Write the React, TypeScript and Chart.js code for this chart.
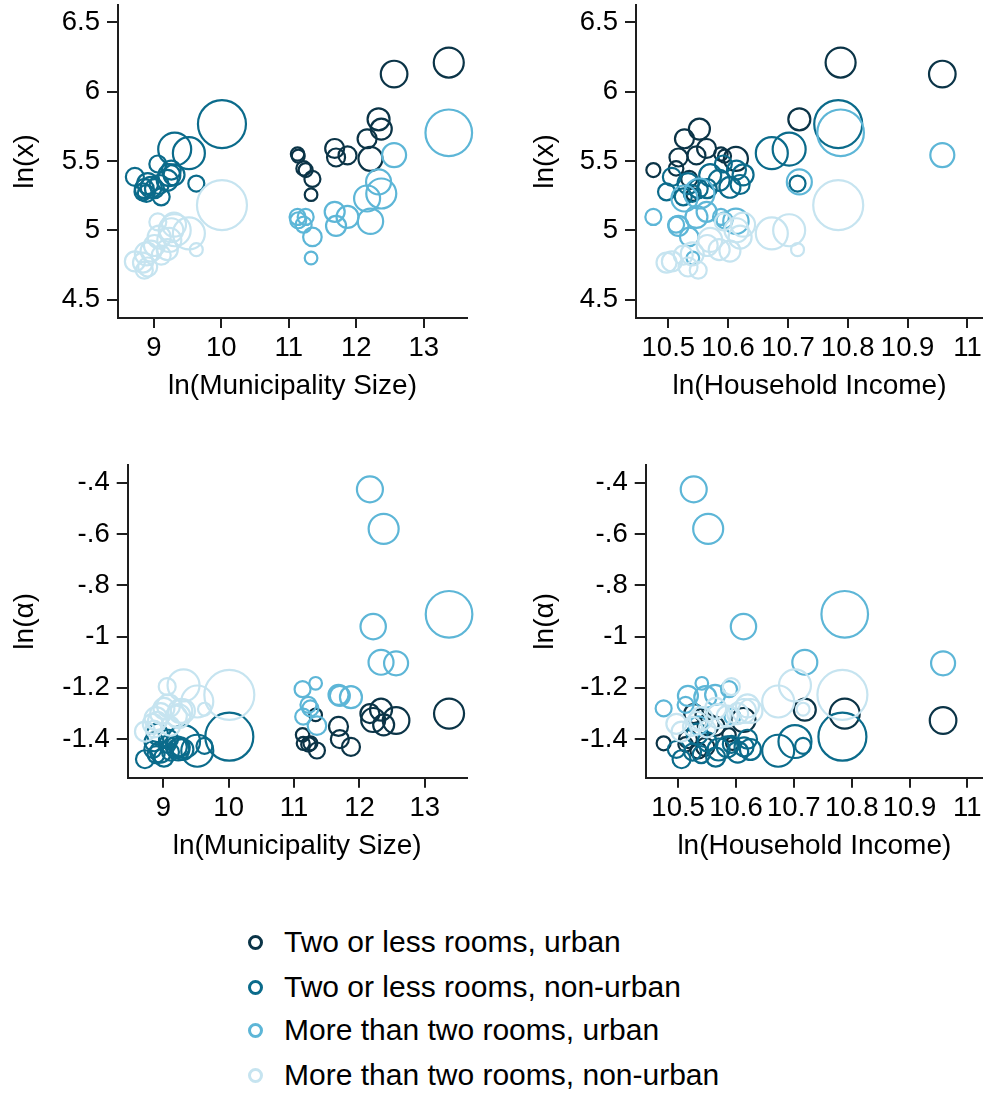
import React, { useEffect, useRef } from 'react';
import { Chart, registerables } from 'chart.js';

Chart.register(...registerables);

// ---------------- DATA ----------------
// Urban municipalities (shared by the two urban series)
const urbanLnSize = [13.37, 12.56, 12.33, 12.37, 12.16, 12.21, 11.68, 11.7, 11.87, 11.13, 11.14, 11.22, 11.25, 11.35, 11.33];
const urbanLnIncome = [10.788, 10.958, 10.719, 10.552, 10.527, 10.613, 10.564, 10.517, 10.547, 10.588, 10.594, 10.513, 10.475, 10.535, 10.541];

// Two or less rooms, urban
const smallUrbanLnX = [6.21, 6.127, 5.8, 5.73, 5.66, 5.515, 5.59, 5.525, 5.54, 5.55, 5.535, 5.446, 5.434, 5.37, 5.257];
const smallUrbanLnAlpha = [-1.3, -1.327, -1.285, -1.344, -1.3, -1.325, -1.35, -1.4, -1.43, -1.383, -1.416, -1.42, -1.416, -1.444, -1.305];
const smallUrbanWeight = [225, 177, 121, 110, 90, 144, 90, 81, 81, 45, 42, 53, 49, 64, 40];

// More than two rooms, urban
const largeUrbanLnX = [5.703, 5.542, 5.349, 5.265, 5.229, 5.065, 5.133, 5.031, 5.096, 5.096, 5.072, 5.04, 5.096, 4.952, 4.8];
const largeUrbanLnAlpha = [-0.913, -1.104, -1.1, -0.58, -0.426, -0.961, -1.227, -1.231, -1.236, -1.205, -1.312, -1.266, -1.28, -1.347, -1.182];
const largeUrbanWeight = [543, 144, 156, 225, 169, 161, 100, 100, 121, 64, 64, 64, 64, 86, 40];

// Non-urban municipalities (shared by the two non-urban series)
const ruralLnSize = [10.01, 9.31, 9.52, 8.72, 9.63, 9.06, 9.26, 9.23, 8.91, 8.86, 8.96, 8.84, 8.89, 9.01, 9.11, 9.08, 9.3, 9.2];
const ruralLnIncome = [10.784, 10.702, 10.673, 10.506, 10.716, 10.592, 10.614, 10.57, 10.533, 10.55, 10.603, 10.497, 10.54, 10.565, 10.525, 10.62, 10.625, 10.585];

// Two or less rooms, non-urban
const smallRuralLnX = [5.766, 5.585, 5.556, 5.385, 5.337, 5.478, 5.434, 5.397, 5.337, 5.3, 5.31, 5.277, 5.265, 5.3, 5.241, 5.33, 5.4, 5.36];
const smallRuralLnAlpha = [-1.39, -1.409, -1.445, -1.478, -1.426, -1.42, -1.43, -1.44, -1.38, -1.41, -1.45, -1.44, -1.46, -1.47, -1.45, -1.4, -1.44, -1.43];
const smallRuralWeight = [576, 272, 256, 81, 64, 72, 90, 121, 110, 90, 110, 72, 72, 90, 72, 90, 110, 110];

// More than two rooms, non-urban
const largeRuralLnX = [5.181, 5.0, 4.977, 4.775, 4.86, 5.06, 5.0, 4.93, 4.735, 4.712, 4.85, 4.767, 4.83, 4.89, 4.82, 4.95, 5.04, 4.86];
const largeRuralLnAlpha = [-1.227, -1.19, -1.253, -1.37, -1.283, -1.195, -1.29, -1.31, -1.33, -1.36, -1.3, -1.34, -1.32, -1.28, -1.35, -1.27, -1.29, -1.31];
const largeRuralWeight = [625, 256, 256, 100, 42, 72, 144, 144, 90, 72, 110, 100, 132, 110, 90, 132, 144, 110];

const seriesNames = [
  'Two or less rooms, urban',
  'Two or less rooms, non-urban',
  'More than two rooms, urban',
  'More than two rooms, non-urban',
];
const seriesColors = ['#0b3447', '#0b6b8b', '#5db6d7', '#c6e4f0'];

// Ticks
const sizeTicks = [9, 10, 11, 12, 13];
const sizeTickLabels = ['9', '10', '11', '12', '13'];
const incomeTicks = [10.5, 10.6, 10.7, 10.8, 10.9, 11];
const incomeTickLabels = ['10.5', '10.6', '10.7', '10.8', '10.9', '11'];
const lnXTicks = [4.5, 5, 5.5, 6, 6.5];
const lnXTickLabels = ['4.5', '5', '5.5', '6', '6.5'];
const lnAlphaTicks = [-1.4, -1.2, -1, -0.8, -0.6, -0.4];
const lnAlphaTickLabels = ['-1.4', '-1.2', '-1', '-.8', '-.6', '-.4'];

// ---------------- CHART SETUP ----------------
const FONT = '"Liberation Sans", Arial, Helvetica, sans-serif';
const AXIS_COLOR = '#1e1e1e';

type Series = { xSize: number[]; xIncome: number[]; lnX: number[]; lnAlpha: number[]; w: number[] };

const seriesData: Series[] = [
  { xSize: urbanLnSize, xIncome: urbanLnIncome, lnX: smallUrbanLnX, lnAlpha: smallUrbanLnAlpha, w: smallUrbanWeight },
  { xSize: ruralLnSize, xIncome: ruralLnIncome, lnX: smallRuralLnX, lnAlpha: smallRuralLnAlpha, w: smallRuralWeight },
  { xSize: urbanLnSize, xIncome: urbanLnIncome, lnX: largeUrbanLnX, lnAlpha: largeUrbanLnAlpha, w: largeUrbanWeight },
  { xSize: ruralLnSize, xIncome: ruralLnIncome, lnX: largeRuralLnX, lnAlpha: largeRuralLnAlpha, w: largeRuralWeight },
];

type Panel = {
  left: number; top: number; width: number; height: number;
  padTop: number; padRight: number; yAxisWidth: number; xAxisHeight: number;
  xVar: 'size' | 'income'; yVar: 'x' | 'alpha';
  xMin: number; xMax: number; yMin: number; yMax: number;
  yTitlePad: number; xTitlePad: number;
};

const panels: Panel[] = [
  { left: 0, top: 0, width: 490, height: 410, padTop: 5, padRight: 23, yAxisWidth: 118, xAxisHeight: 92, xVar: 'size', yVar: 'x', xMin: 8.47, xMax: 13.64, yMin: 4.367, yMax: 6.625, yTitlePad: 8, xTitlePad: 6.5 },
  { left: 490, top: 0, width: 493, height: 410, padTop: 5, padRight: 0, yAxisWidth: 146, xAxisHeight: 92, xVar: 'income', yVar: 'x', xMin: 10.446, xMax: 11.026, yMin: 4.367, yMax: 6.625, yTitlePad: 38, xTitlePad: 6.5 },
  { left: 0, top: 450, width: 490, height: 430, padTop: 15, padRight: 23.3, yAxisWidth: 127.7, xAxisHeight: 102.3, xVar: 'size', yVar: 'alpha', xMin: 8.456, xMax: 13.64, yMin: -1.55, yMax: -0.331, yTitlePad: 8, xTitlePad: 16.5 },
  { left: 490, top: 450, width: 493, height: 430, padTop: 15, padRight: 0, yAxisWidth: 155.7, xAxisHeight: 102.3, xVar: 'income', yVar: 'alpha', xMin: 10.444, xMax: 11.027, yMin: -1.55, yMax: -0.331, yTitlePad: 38, xTitlePad: 16.5 },
];

function zeroPad(scale: any) {
  scale.paddingTop = 0;
  scale.paddingBottom = 0;
  scale.paddingLeft = 0;
  scale.paddingRight = 0;
}

function buildConfig(p: Panel): any {
  const xTicks = p.xVar === 'size' ? sizeTicks : incomeTicks;
  const xLabels = p.xVar === 'size' ? sizeTickLabels : incomeTickLabels;
  const yTicks = p.yVar === 'x' ? lnXTicks : lnAlphaTicks;
  const yLabels = p.yVar === 'x' ? lnXTickLabels : lnAlphaTickLabels;

  const datasets = seriesData.map((s, si) => {
    const xs = p.xVar === 'size' ? s.xSize : s.xIncome;
    const ys = p.yVar === 'x' ? s.lnX : s.lnAlpha;
    return {
      label: seriesNames[si],
      data: xs.map((x, i) => ({ x, y: ys[i], r: Math.sqrt(s.w[i]) })),
      backgroundColor: 'rgba(0,0,0,0)',
      borderColor: seriesColors[si],
      borderWidth: 2.2,
      order: seriesNames.length - si,
      clip: false,
    };
  });

  return {
    type: 'bubble',
    data: { datasets },
    options: {
      responsive: false,
      animation: false,
      events: [],
      layout: { autoPadding: false, padding: { left: 0, top: p.padTop, right: p.padRight, bottom: 0 } },
      plugins: { legend: { display: false }, tooltip: { enabled: false } },
      scales: {
        x: {
          type: 'linear',
          position: 'bottom',
          min: p.xMin,
          max: p.xMax,
          afterBuildTicks: (scale: any) => {
            scale.ticks = xTicks.map((v) => ({ value: v }));
          },
          afterFit: (scale: any) => {
            scale.height = p.xAxisHeight;
            zeroPad(scale);
          },
          ticks: {
            autoSkip: false,
            maxRotation: 0,
            minRotation: 0,
            padding: 4,
            color: '#000',
            font: { family: FONT, size: 27.5 },
            callback: (_v: any, i: number) => xLabels[i],
          },
          grid: { drawOnChartArea: false, drawTicks: true, tickLength: 10, color: AXIS_COLOR, lineWidth: 2 },
          border: { display: true, color: AXIS_COLOR, width: 2 },
          title: {
            display: true,
            text: p.xVar === 'size' ? 'ln(Municipality Size)' : 'ln(Household Income)',
            color: '#000',
            font: { family: FONT, size: 28 },
            padding: { top: 0, bottom: p.xTitlePad },
          },
        },
        y: {
          type: 'linear',
          position: 'left',
          min: p.yMin,
          max: p.yMax,
          afterBuildTicks: (scale: any) => {
            scale.ticks = yTicks.map((v) => ({ value: v }));
          },
          afterFit: (scale: any) => {
            scale.width = p.yAxisWidth;
            zeroPad(scale);
          },
          ticks: {
            autoSkip: false,
            padding: 7,
            color: '#000',
            font: { family: FONT, size: 27.5 },
            callback: (_v: any, i: number) => yLabels[i],
          },
          grid: { drawOnChartArea: false, drawTicks: true, tickLength: 11, color: AXIS_COLOR, lineWidth: 2 },
          border: { display: true, color: AXIS_COLOR, width: 2 },
          title: {
            display: true,
            text: p.yVar === 'x' ? 'ln(x)' : 'ln(α)',
            color: '#000',
            font: { family: FONT, size: 28 },
            padding: { top: p.yTitlePad, bottom: 0 },
          },
        },
      },
    },
  };
}

function PanelChart({ panel }: { panel: Panel }) {
  const ref = useRef<HTMLCanvasElement | null>(null);
  useEffect(() => {
    if (!ref.current) return;
    const chart = new Chart(ref.current, buildConfig(panel));
    return () => chart.destroy();
  }, [panel]);
  return (
    <canvas
      ref={ref}
      width={panel.width}
      height={panel.height}
      style={{ position: 'absolute', left: panel.left, top: panel.top, width: panel.width, height: panel.height, display: 'block' }}
    />
  );
}

const legendRowsY = [942.5, 987, 1030, 1075];

export default function App() {
  return (
    <div
      style={{
        position: 'absolute',
        left: 0,
        top: 0,
        width: 983,
        height: 1094,
        overflow: 'hidden',
        background: '#fff',
        fontFamily: FONT,
      }}
    >
      {panels.map((p, i) => (
        <PanelChart key={i} panel={p} />
      ))}
      {seriesNames.map((name, i) => (
        <React.Fragment key={name}>
          <div
            style={{
              position: 'absolute',
              left: 248,
              top: legendRowsY[i] - 7.5,
              width: 15,
              height: 15,
              boxSizing: 'border-box',
              border: `3px solid ${seriesColors[i]}`,
              borderRadius: '50%',
            }}
          />
          <div
            style={{
              position: 'absolute',
              left: 284,
              top: legendRowsY[i] - 17.2,
              fontSize: 30,
              lineHeight: '34px',
              color: '#000',
              whiteSpace: 'nowrap',
            }}
          >
            {name}
          </div>
        </React.Fragment>
      ))}
    </div>
  );
}
